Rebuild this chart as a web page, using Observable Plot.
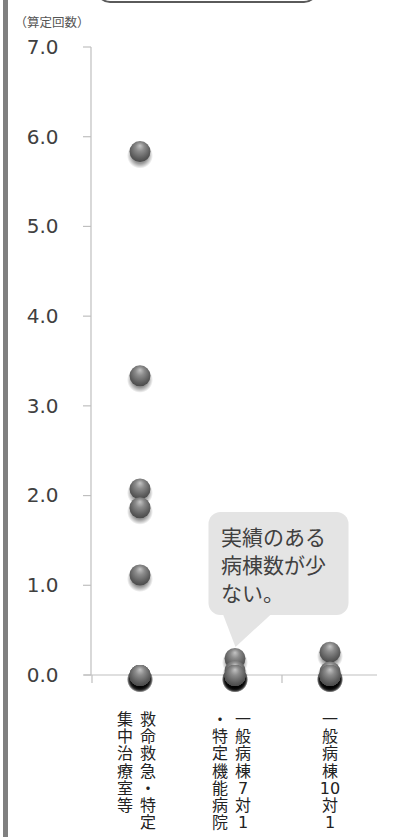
<!DOCTYPE html>
<html><head><meta charset="utf-8">
<script src="https://cdn.jsdelivr.net/npm/d3@7"></script>
<script src="https://cdn.jsdelivr.net/npm/@observablehq/plot@0.6"></script>
<style>
body{margin:0;background:#fff;width:403px;height:837px;overflow:hidden;position:relative;font-family:"Noto Sans CJK JP",sans-serif;}
#chart{position:absolute;left:0;top:0;}
#bar{position:absolute;left:3px;top:0;width:5px;height:837px;background:#808080;}
#box{position:absolute;left:96px;top:-28px;width:218px;height:27px;border:2px solid #5a5a5a;border-radius:14px;background:#fff;}
</style></head><body>
<div id="chart"></div><div id="bar"></div><div id="box"></div>
<script>
// ---- data ----
const categories = ["救命救急・特定集中治療室等", "一般病棟7対1・特定機能病院", "一般病棟10対1"];
const labelColumns = [["救命救急・特定", "集中治療室等"], ["一般病棟7対1", "・特定機能病院"], ["一般病棟10対1"]];
const icuValues = [5.84, 3.34, 2.08, 1.87, 1.12, 0, 0, 0, 0, 0, 0, 0, 0];
const ward7Values = [0.19, 0.05, 0, 0, 0, 0, 0, 0, 0, 0, 0, 0];
const ward10Values = [0.26, 0.04, 0, 0, 0, 0, 0, 0, 0, 0, 0, 0];
const yTicks = [0, 1, 2, 3, 4, 5, 6, 7];
const yTitle = "（算定回数）";
const noteCategory = categories[1];
const noteValue = 0.19;
const noteLines = ["実績のある", "病棟数が少", "ない。"];

// ---- derived tables ----
const points = [[categories[0], icuValues], [categories[1], ward7Values], [categories[2], ward10Values]]
  .flatMap(([c, vs]) => vs.map(v => ({category: c, value: v})))
  .sort((a, b) => b.value - a.value);
const vertical = s => s.match(/\d+|./gu).join("\n");
const labelRows = labelColumns.flatMap((cols, i) => cols.map((t, j) => ({category: categories[i], text: vertical(t), col: j, n: cols.length})));

const JP = "'DejaVu Sans','Noto Sans CJK JP',sans-serif";

function defsMark() {
  const defs = d3.create("svg:defs");
  const g = defs.append("radialGradient").attr("id", "ball").attr("cx", 0.5).attr("cy", 0.4).attr("r", 0.6).attr("fx", 0.5).attr("fy", 0.22);
  [[0, "#c4c4c4"], [0.35, "#8c8c8c"], [0.8, "#5c5c5c"], [1, "#4a4a4a"]].forEach(([o, c]) => g.append("stop").attr("offset", o).attr("stop-color", c));
  const s = defs.append("radialGradient").attr("id", "shade").attr("cx", 0.5).attr("cy", 0.5).attr("r", 0.5);
  [[0, 0.6], [0.6, 0.4], [1, 0]].forEach(([o, a]) => s.append("stop").attr("offset", o).attr("stop-color", "#000").attr("stop-opacity", a));
  return defs.node();
}

function axesMark(index, scales, values, dims) {
  const {x, y} = scales;
  const left = dims.marginLeft, right = dims.width - dims.marginRight;
  const y0 = y(0);
  const g = d3.create("svg:g").attr("stroke", "#bfbfbf").attr("stroke-width", 1.2).attr("fill", "none");
  g.append("line").attr("x1", left).attr("x2", left).attr("y1", y(7)).attr("y2", y0);
  yTicks.forEach(t => g.append("line").attr("x1", left - 8).attr("x2", left).attr("y1", y(t)).attr("y2", y(t)));
  g.append("line").attr("x1", left - 7).attr("x2", right).attr("y1", y0).attr("y2", y0);
  [categories[0], categories[2]].forEach(c => g.append("line").attr("x1", x(c)).attr("x2", x(c)).attr("y1", y0).attr("y2", y0 + 8));
  return g.node();
}

function bubbleMark(index, scales) {
  const {x, y} = scales;
  const bw = x.bandwidth ? x.bandwidth() : 0;
  const ax = x(noteCategory) + bw / 2, ay = y(noteValue);
  const g = d3.create("svg:g").attr("fill", "#e4e4e4");
  g.append("rect").attr("x", ax - 26).attr("y", ay - 146).attr("width", 140).attr("height", 103).attr("rx", 12);
  g.append("path").attr("d", `M${ax - 12},${ay - 45}L${ax + 38},${ay - 45}L${ax + 1},${ay - 11}Z`);
  return g.node();
}

const chart = Plot.plot({
  width: 403, height: 837,
  marginTop: 47, marginBottom: 162, marginLeft: 91, marginRight: 26,
  x: {type: "band", domain: categories, axis: null, padding: 0},
  y: {domain: [0, 7], axis: null},
  style: {background: "transparent", overflow: "visible", fontFamily: JP},
  marks: [
    defsMark,
    axesMark,
    Plot.text(yTicks, {y: d => d, text: d => d.toFixed(1), frameAnchor: "left", textAnchor: "end", dx: -33, fontSize: 20, fill: "#404040", fontFamily: "DejaVu Sans"}),
    Plot.text([yTitle], {text: d => d, frameAnchor: "top-left", textAnchor: "start", dx: -77, dy: -29, fontSize: 12.5, fill: "#555", fontFamily: "Noto Sans CJK JP"}),
    Plot.text(labelRows.filter(d => d.n === 2 && d.col === 0), {x: "category", text: "text", frameAnchor: "bottom", lineAnchor: "top", dx: 8, dy: 37, fontSize: 16, lineHeight: 1.08, fill: "#222"}),
    Plot.text(labelRows.filter(d => d.n === 2 && d.col === 1), {x: "category", text: "text", frameAnchor: "bottom", lineAnchor: "top", dx: -15, dy: 37, fontSize: 16, lineHeight: 1.08, fill: "#222"}),
    Plot.text(labelRows.filter(d => d.n === 1), {x: "category", text: "text", frameAnchor: "bottom", lineAnchor: "top", dx: 0, dy: 37, fontSize: 16, lineHeight: 1.08, fill: "#222"}),
    bubbleMark,
    Plot.text([noteLines.join("\n")], {x: () => noteCategory, y: () => noteValue, text: d => d, textAnchor: "start", lineAnchor: "top", dx: -14, dy: -133, fontSize: 21, lineHeight: 1.33, fill: "#404040", fontFamily: "Noto Sans CJK JP"}),
    Plot.dot(points, {x: "category", y: "value", r: 13, dy: 4, fill: "url(#shade)", stroke: null}),
    Plot.dot(points, {x: "category", y: "value", r: 10.5, fill: "url(#ball)", stroke: null})
  ]
});
document.getElementById("chart").appendChild(chart);
</script>
</body></html>
